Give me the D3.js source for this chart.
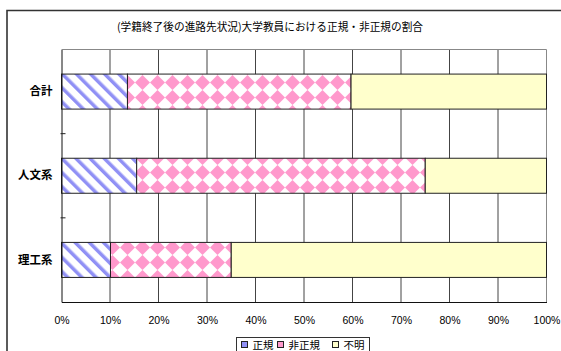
<!DOCTYPE html>
<html>
<head>
<meta charset="utf-8">
<script src="https://cdn.jsdelivr.net/npm/d3@7"></script>
<style>
  html, body { margin: 0; padding: 0; background: #fff; }
  svg { display: block; }
</style>
</head>
<body>
<svg id="chart" width="561" height="351"></svg>
<script>
// 100% stacked bar data (percent of each group)
const categories = ["合計", "人文系", "理工系"];
const seriesNames = ["正規", "非正規", "不明"];
const seiki = [13.6, 15.5, 10.1];
const hiseiki = [46.1, 59.5, 24.9];
const fumei = [40.3, 25.0, 65.0];
const tickValues = [0, 10, 20, 30, 40, 50, 60, 70, 80, 90, 100];
const titleText = "(学籍終了後の進路先状況)大学教員における正規・非正規の割合";

const svg = d3.select("#chart");
const defs = svg.append("defs");

// diagonal stripe fill for 正規 (falling left to right)
const p1 = defs.append("pattern").attr("id", "pat-seiki")
  .attr("patternUnits", "userSpaceOnUse").attr("width", 10).attr("height", 10)
  .attr("patternTransform", "rotate(-45)");
p1.append("rect").attr("width", 10).attr("height", 10).attr("fill", "#fff");
p1.append("rect").attr("x", 0).attr("width", 3.5).attr("height", 10).attr("fill", "#9090f5");

// diamond checker fill for 非正規
const p2 = defs.append("pattern").attr("id", "pat-hiseiki")
  .attr("patternUnits", "userSpaceOnUse").attr("width", 15).attr("height", 15);
p2.append("rect").attr("width", 15).attr("height", 15).attr("fill", "#fff");
p2.append("path").attr("d", "M7.5,0 L15,7.5 L7.5,15 L0,7.5 Z").attr("fill", "#ff99cc");

const fills = ["url(#pat-seiki)", "url(#pat-hiseiki)", "#ffffcc"];
const legendFills = ["#9090f5", "#ff99cc", "#ffffcc"];

const plotLeft = 61.5, plotRight = 546.5, plotTop = 49.5, plotBottom = 302;

const x = d3.scaleLinear().domain([0, 100]).range([plotLeft, plotRight]);
const y = d3.scaleBand().domain(categories).range([plotTop, plotBottom])
  .paddingInner(0.584).paddingOuter(0.292);

// outer chart frame
svg.append("path").attr("d", "M7,351 V10.5 H561")
  .attr("fill", "none").attr("stroke", "#333").attr("stroke-width", 1.6);

// title
svg.append("text").attr("x", 270).attr("y", 31).attr("text-anchor", "middle")
  .attr("font-family", "'Noto Sans CJK JP', sans-serif").attr("font-size", 11)
  .attr("textLength", 306).attr("lengthAdjust", "spacingAndGlyphs")
  .attr("fill", "#000").text(titleText);

// vertical gridlines
svg.append("g").selectAll("line").data(tickValues.slice(1)).join("line")
  .attr("x1", d => x(d)).attr("x2", d => x(d))
  .attr("y1", plotTop).attr("y2", plotBottom)
  .attr("stroke", d => d === 100 ? "#888" : "#444").attr("stroke-width", 1);

// top border of plot
svg.append("line").attr("x1", plotLeft).attr("x2", plotRight).attr("y1", plotTop).attr("y2", plotTop)
  .attr("stroke", "#888");

// stacked bars
const stackData = categories.map((c, i) => ({ cat: c, "正規": seiki[i], "非正規": hiseiki[i], "不明": fumei[i] }));
const stacked = d3.stack().keys(seriesNames)(stackData);
const gBars = svg.append("g");
stacked.forEach((layer, k) => {
  gBars.selectAll(null).data(layer).join("rect")
    .attr("x", d => x(d[0])).attr("width", d => x(d[1]) - x(d[0]))
    .attr("y", d => y(d.data.cat)).attr("height", y.bandwidth())
    .attr("fill", fills[k]).attr("stroke", "#222").attr("stroke-width", 1);
});

// x axis
const xAxis = d3.axisBottom(x).tickValues(tickValues).tickSize(0).tickFormat(d => d + "%");
const gx = svg.append("g").attr("transform", `translate(0,${plotBottom})`).call(xAxis);
gx.select(".domain").attr("stroke", "#111");
gx.selectAll("text").attr("font-family", "'Liberation Sans', Arial, sans-serif")
  .attr("font-size", 10.5).attr("fill", "#000").attr("dy", 0).attr("y", 22);

// y axis with ticks between categories
const yAxis = d3.axisLeft(y).tickSize(0).tickPadding(9);
const gy = svg.append("g").attr("transform", `translate(${plotLeft},0)`).call(yAxis);
gy.select(".domain").attr("stroke", "#111");
gy.selectAll("text").attr("font-family", "'Noto Sans CJK JP', sans-serif")
  .attr("font-size", 11.5).attr("font-weight", "bold").attr("fill", "#000");
const bounds = [plotTop + y.step(), plotTop + 2 * y.step()];
svg.append("g").selectAll("line").data(bounds).join("line")
  .attr("x1", plotLeft - 1).attr("x2", plotLeft + 4).attr("y1", d => d).attr("y2", d => d)
  .attr("stroke", "#222");

// legend
const lg = svg.append("g");
lg.append("rect").attr("x", 236.5).attr("y", 337.5).attr("width", 133).attr("height", 20)
  .attr("fill", "#fff").attr("stroke", "#333");
const legendX = [241, 277, 332];
seriesNames.forEach((n, i) => {
  lg.append("rect").attr("x", legendX[i] + 0.5).attr("y", 341.5).attr("width", 6).attr("height", 6)
    .attr("fill", legendFills[i]).attr("stroke", "#222");
  lg.append("text").attr("x", legendX[i] + 11.5).attr("y", 349)
    .attr("font-family", "'Noto Sans CJK JP', sans-serif").attr("font-size", 10.5)
    .attr("fill", "#000").text(n);
});
</script>
</body>
</html>
